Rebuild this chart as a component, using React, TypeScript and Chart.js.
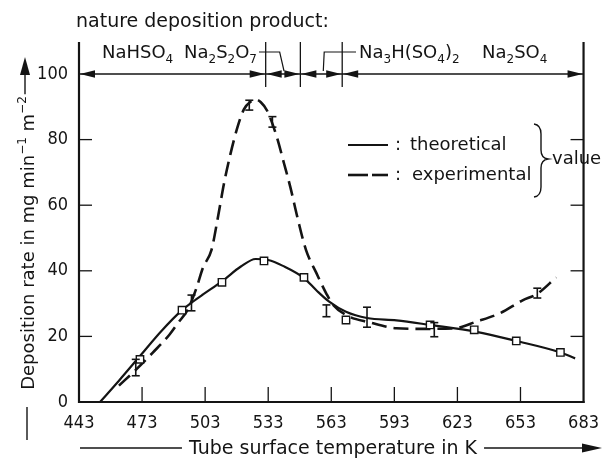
import React, { useEffect, useRef } from "react";
import { Chart, registerables } from "chart.js";

Chart.register(...registerables);

// ---------------- data ----------------
const xTickValues = [443, 473, 503, 533, 563, 593, 623, 653, 683];
const yTickValues = [0, 20, 40, 60, 80, 100];

// theoretical (solid) curve
const theoT = [453, 462, 472, 482, 492, 497, 502, 511, 520, 527, 533, 540, 550, 556, 562, 570, 580, 594, 610, 632, 651, 672, 679];
const theoV = [0, 6.5, 14, 21.5, 28, 30.5, 32.8, 36.8, 41.3, 43.6, 43.3, 41.5, 37.8, 34, 30.6, 27.5, 25.6, 24.9, 23.5, 21.4, 18.6, 15.1, 13.3];

// experimental (dashed) curve
const expT = [462, 470, 478, 486, 490, 495, 499, 502, 506, 509, 512, 515, 518.5, 521.5, 524.5, 527, 529.5, 532.5, 537, 540.5, 543.5, 547, 551, 556, 560.7, 564, 571, 581, 594, 608, 622, 632, 643, 654, 661, 670];
const expV = [5, 9.8, 15, 20.5, 24, 28.5, 35, 41, 46.3, 56, 66.7, 75.5, 84, 89.3, 91.5, 92.2, 91.4, 88.8, 81, 72.8, 65.6, 56, 46.3, 39.2, 33, 29.5, 26.2, 24.3, 22.5, 22.3, 22.5, 24.5, 27, 31, 33, 38];

// theoretical value markers (squares)
const sqT = [472, 492, 511, 531, 550, 570, 610, 631, 651, 672];
const sqV = [13, 28, 36.5, 43, 38, 25, 23.5, 22, 18.6, 15.1];

// experimental error bars
const errT = [470, 496.5, 524, 535, 560.7, 580, 612, 661];
const errLo = [8, 27.8, 89, 83.8, 26, 22.8, 19.9, 31.7];
const errHi = [13, 32.6, 92, 87, 29.6, 28.9, 24.2, 34.7];

// deposition product phase boundaries (K)
const phaseBounds = [443, 531.8, 548.3, 568.2, 683];

// text
const topTitle = "nature deposition product:";
const legendTheo = "theoretical";
const legendExp = "experimental";
const legendValue = "value";
const xTitle = "Tube surface temperature in K";

type Seg = { t: string; s?: "sub" | "sup" };
const yTitleSegs: Seg[] = [
  { t: "Deposition rate in mg min" },
  { t: "\u22121", s: "sup" },
  { t: " m" },
  { t: "\u22122", s: "sup" },
];
const phaseLabelNaHSO4: Seg[] = [{ t: "NaHSO" }, { t: "4", s: "sub" }];
const phaseLabelNa2S2O7: Seg[] = [{ t: "Na" }, { t: "2", s: "sub" }, { t: "S" }, { t: "2", s: "sub" }, { t: "O" }, { t: "7", s: "sub" }];
const phaseLabelNa3H: Seg[] = [{ t: "Na" }, { t: "3", s: "sub" }, { t: "H(SO" }, { t: "4", s: "sub" }, { t: ")" }, { t: "2", s: "sub" }];
const phaseLabelNa2SO4: Seg[] = [{ t: "Na" }, { t: "2", s: "sub" }, { t: "SO" }, { t: "4", s: "sub" }];

// ---------------- styling ----------------
const INK = "#141414";
const FONT = "'DejaVu Sans', sans-serif";
const TICKFONT = "'DejaVu Sans Condensed', 'DejaVu Sans', sans-serif";

function richWidth(ctx: CanvasRenderingContext2D, segs: Seg[], size: number) {
  let w = 0;
  for (const sg of segs) {
    ctx.font = `${sg.s ? Math.round(size * 0.68) : size}px ${FONT}`;
    w += ctx.measureText(sg.t).width;
  }
  return w;
}

function drawRich(ctx: CanvasRenderingContext2D, segs: Seg[], x: number, y: number, size: number, align: "left" | "center" | "right") {
  const w = richWidth(ctx, segs, size);
  let cx = align === "left" ? x : align === "center" ? x - w / 2 : x - w;
  ctx.textAlign = "left";
  ctx.textBaseline = "alphabetic";
  for (const sg of segs) {
    const fs = sg.s ? Math.round(size * 0.68) : size;
    ctx.font = `${fs}px ${FONT}`;
    const dy = sg.s === "sub" ? size * 0.3 : sg.s === "sup" ? -size * 0.42 : 0;
    ctx.fillText(sg.t, cx, y + dy);
    cx += ctx.measureText(sg.t).width;
  }
  return w;
}

const decor = {
  id: "decor",
  afterDraw(chart: any) {
    const ctx: CanvasRenderingContext2D = chart.ctx;
    const xs = chart.scales.x;
    const ys = chart.scales.y;
    const { left: L, right: R, bottom: B } = chart.chartArea;
    const line = (x1: number, y1: number, x2: number, y2: number) => {
      ctx.beginPath();
      ctx.moveTo(x1, y1);
      ctx.lineTo(x2, y2);
      ctx.stroke();
    };
    const head = (tx: number, ty: number, dir: "left" | "right" | "up", len = 14, half = 4) => {
      ctx.beginPath();
      ctx.moveTo(tx, ty);
      if (dir === "left") {
        ctx.lineTo(tx + len, ty - half);
        ctx.lineTo(tx + len, ty + half);
      } else if (dir === "right") {
        ctx.lineTo(tx - len, ty - half);
        ctx.lineTo(tx - len, ty + half);
      } else {
        ctx.lineTo(tx - half, ty + len);
        ctx.lineTo(tx + half, ty + len);
      }
      ctx.closePath();
      ctx.fill();
    };

    ctx.save();
    ctx.strokeStyle = INK;
    ctx.fillStyle = INK;
    ctx.setLineDash([]);

    // error bars
    ctx.lineWidth = 1.6;
    errT.forEach((t, i) => {
      const x = xs.getPixelForValue(t);
      const y1 = ys.getPixelForValue(errLo[i]);
      const y2 = ys.getPixelForValue(errHi[i]);
      line(x, y1, x, y2);
      line(x - 4, y1, x + 4, y1);
      line(x - 4, y2, x + 4, y2);
    });

    // frame
    const topExt = 42;
    ctx.lineWidth = 2.2;
    line(L, topExt, L, B + 1);
    line(L - 1, B, R + 1, B);
    line(R, topExt, R, B + 1);

    // inner ticks
    ctx.lineWidth = 1.3;
    yTickValues.filter((v) => v > 0 && v < 100).forEach((v) => {
      const y = ys.getPixelForValue(v);
      line(L, y, L + 13, y);
      line(R, y, R - 13, y);
    });
    xTickValues.slice(1, -1).forEach((v) => {
      const x = xs.getPixelForValue(v);
      line(x, B, x, B - 15);
    });

    // phase dimension line with arrows
    const yA = ys.getPixelForValue(100);
    ctx.lineWidth = 1.4;
    line(L, yA, R, yA);
    for (let i = 0; i < phaseBounds.length - 1; i++) {
      const a = xs.getPixelForValue(phaseBounds[i]);
      const b = xs.getPixelForValue(phaseBounds[i + 1]);
      head(a + 1, yA, "left", 15, 3.8);
      head(b - 1, yA, "right", 15, 3.8);
    }
    ctx.lineWidth = 1.3;
    phaseBounds.slice(1, -1).forEach((v) => {
      const x = xs.getPixelForValue(v);
      line(x, topExt, x, yA + 13);
    });

    // labels of deposition product
    ctx.fillStyle = INK;
    drawRich(ctx, [{ t: topTitle }], 76, 27, 19, "left");
    drawRich(ctx, phaseLabelNaHSO4, 102, 58, 18, "left");
    const w2 = drawRich(ctx, phaseLabelNa2S2O7, 184, 58, 18, "left");
    drawRich(ctx, phaseLabelNa3H, 359, 58, 18, "left");
    drawRich(ctx, phaseLabelNa2SO4, 482, 58, 18, "left");
    const p1 = xs.getPixelForValue(phaseBounds[1]);
    const p2 = xs.getPixelForValue(phaseBounds[2]);
    const p3 = xs.getPixelForValue(phaseBounds[3]);
    ctx.lineWidth = 1.2;
    ctx.beginPath();
    ctx.moveTo(184 + w2 + 2, 52);
    ctx.lineTo(p1 + 14, 52);
    ctx.lineTo((p1 + p2) / 2 + 1, yA - 3);
    ctx.stroke();
    ctx.beginPath();
    ctx.moveTo(356, 52);
    ctx.lineTo(p3 - 18, 52);
    ctx.lineTo((p2 + p3) / 2 + 2, yA - 3);
    ctx.stroke();

    // legend
    ctx.lineWidth = 2.2;
    line(348, 145, 388, 145);
    ctx.lineWidth = 2.6;
    line(348, 175, 368, 175);
    line(372, 175, 388, 175);
    drawRich(ctx, [{ t: ":" }], 395, 150, 18, "left");
    drawRich(ctx, [{ t: ":" }], 395, 180, 18, "left");
    drawRich(ctx, [{ t: legendTheo }], 410, 150, 18, "left");
    drawRich(ctx, [{ t: legendExp }], 412, 180, 18, "left");
    // brace
    ctx.lineWidth = 1.4;
    ctx.beginPath();
    ctx.moveTo(534, 124);
    ctx.quadraticCurveTo(541, 125, 541, 134);
    ctx.lineTo(541, 150);
    ctx.quadraticCurveTo(541, 158, 548, 159);
    ctx.quadraticCurveTo(541, 160, 541, 168);
    ctx.lineTo(541, 187);
    ctx.quadraticCurveTo(541, 196, 534, 197);
    ctx.stroke();
    drawRich(ctx, [{ t: legendValue }], 552, 164, 18, "left");

    // x title
    ctx.lineWidth = 1.4;
    const xtW = drawRich(ctx, [{ t: xTitle }], 333, 454, 19, "center");
    line(80, 448, 333 - xtW / 2 - 7, 448);
    line(333 + xtW / 2 + 7, 448, 585, 448);
    head(602, 448, "right", 20, 4.5);

    // y title (rotated)
    ctx.save();
    ctx.translate(34, 243);
    ctx.rotate(-Math.PI / 2);
    const ytW = drawRich(ctx, yTitleSegs, 0, 0, 18, "center");
    ctx.restore();
    ctx.lineWidth = 1.4;
    line(27, 407, 27, 440);
    line(25, 243 - ytW / 2 - 2, 25, 72);
    head(25, 57, "up", 18, 5);

    ctx.restore();
  },
};

export default function App() {
  const ref = useRef<HTMLCanvasElement | null>(null);
  useEffect(() => {
    if (!ref.current) return;
    const tickFont = { family: TICKFONT, size: 18 };
    const chart = new Chart(ref.current, {
      type: "line",
      data: {
        datasets: [
          {
            label: "theoretical points",
            data: sqT.map((t, i) => ({ x: t, y: sqV[i] })),
            showLine: false,
            pointStyle: "rect",
            pointRadius: 5.2,
            borderColor: INK,
            backgroundColor: "#ffffff",
            borderWidth: 1.4,
          },
          {
            label: legendTheo,
            data: theoT.map((t, i) => ({ x: t, y: theoV[i] })),
            borderColor: INK,
            borderWidth: 2.2,
            pointRadius: 0,
            cubicInterpolationMode: "monotone",
            fill: false,
          },
          {
            label: legendExp,
            data: expT.map((t, i) => ({ x: t, y: expV[i] })),
            borderColor: INK,
            borderWidth: 2.6,
            borderDash: [15, 7],
            pointRadius: 0,
            cubicInterpolationMode: "monotone",
            fill: false,
          },
        ],
      },
      options: {
        animation: false,
        responsive: false,
        layout: { padding: { top: 74, right: 21, left: 0, bottom: 0 } },
        plugins: { legend: { display: false }, tooltip: { enabled: false } },
        scales: {
          x: {
            type: "linear",
            min: 443,
            max: 683,
            grid: { display: false, drawTicks: false },
            border: { display: false },
            afterBuildTicks: (s: any) => {
              s.ticks = xTickValues.map((v) => ({ value: v }));
            },
            afterFit: (s: any) => {
              s.height = 60;
            },
            ticks: { color: INK, font: tickFont, padding: 11, maxRotation: 0, autoSkip: false },
          },
          y: {
            type: "linear",
            min: 0,
            max: 100,
            grid: { display: false, drawTicks: false },
            border: { display: false },
            afterBuildTicks: (s: any) => {
              s.ticks = yTickValues.map((v) => ({ value: v }));
            },
            afterFit: (s: any) => {
              s.width = 79;
            },
            ticks: { color: INK, font: tickFont, padding: 11 },
          },
        },
      },
      plugins: [decor],
    } as any);
    return () => chart.destroy();
  }, []);
  return (
    <div style={{ position: "absolute", left: 0, top: 0, width: 610, height: 462, background: "#fff" }}>
      <canvas ref={ref} width={610} height={462} style={{ width: 610, height: 462, display: "block" }} />
    </div>
  );
}
